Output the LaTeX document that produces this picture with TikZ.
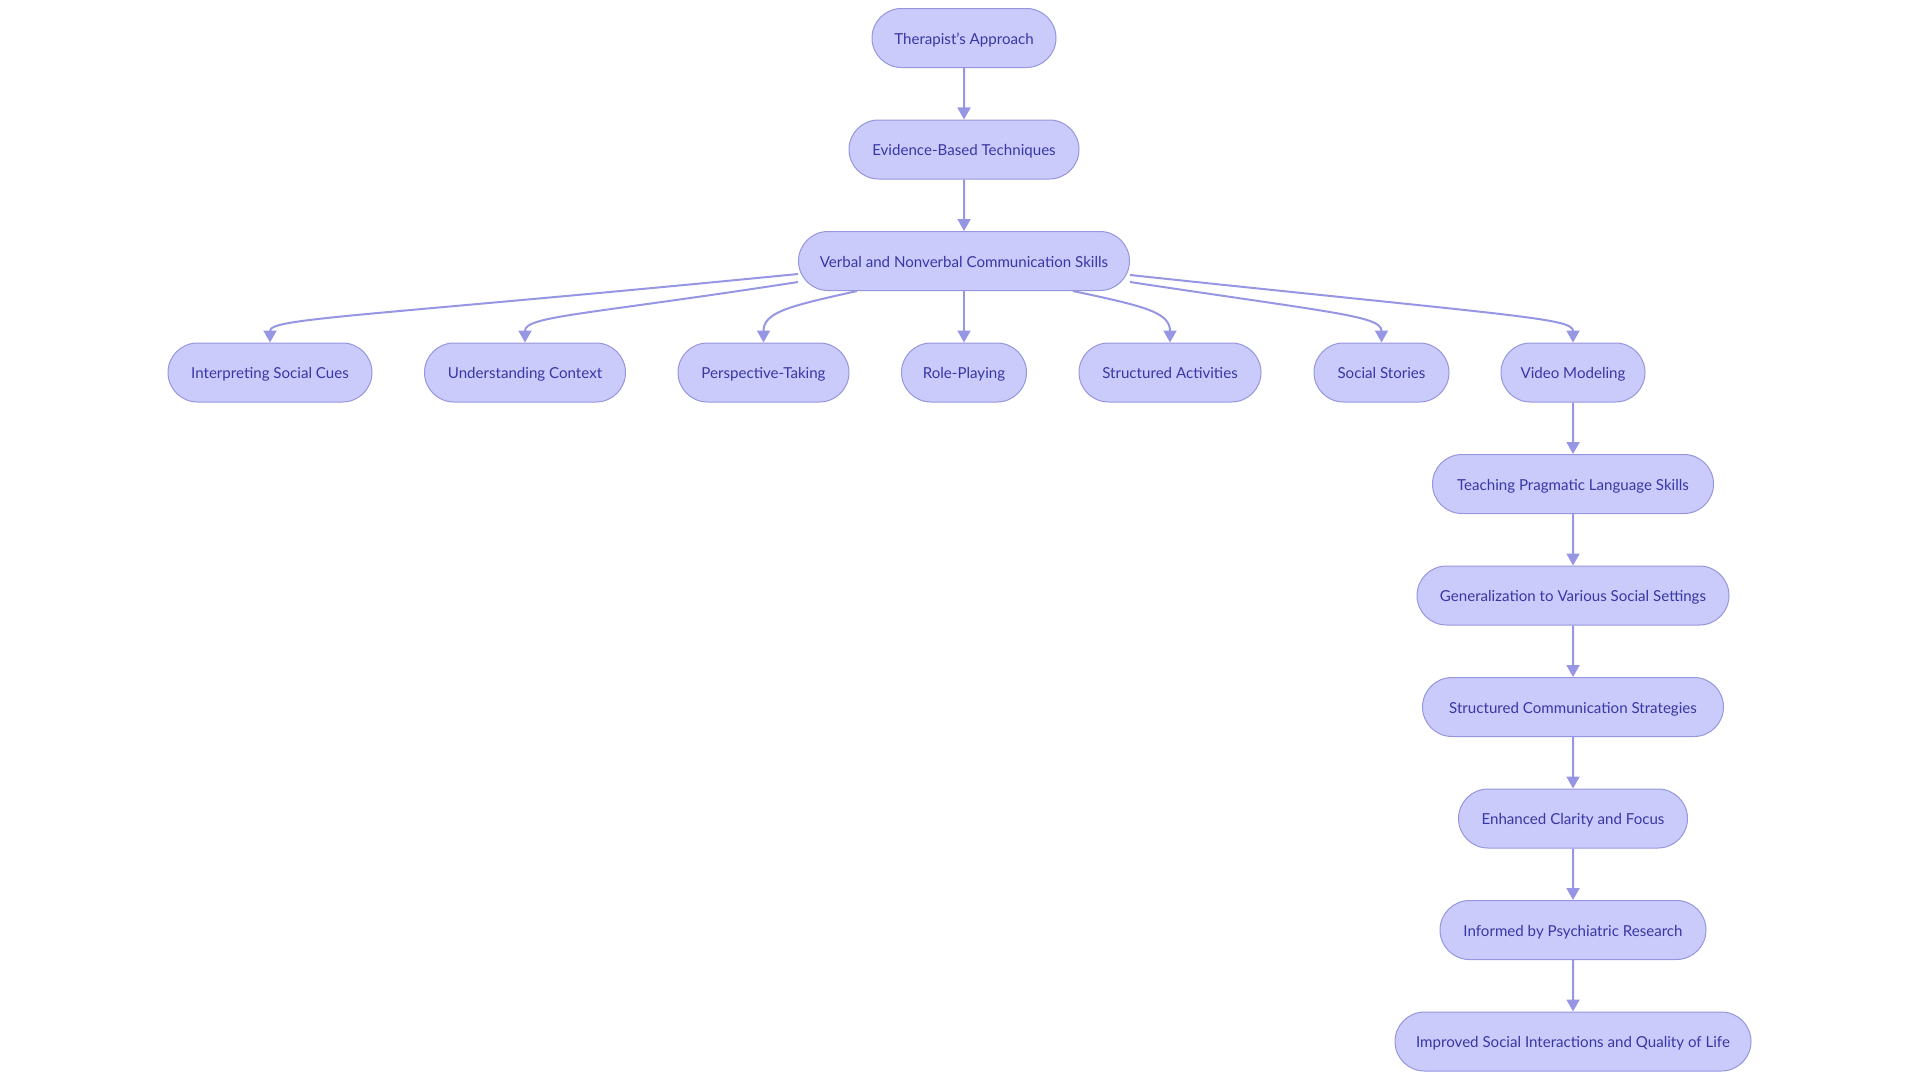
\documentclass[tikz,border=0pt]{standalone}
\usepackage{fontspec}
\setmainfont{Lato}
\usetikzlibrary{arrows.meta,shapes.misc}
\definecolor{nodefill}{RGB}{203,203,251}
\definecolor{nodedraw}{RGB}{150,150,222}
\definecolor{nodetext}{RGB}{55,55,165}
\definecolor{edgecol}{RGB}{150,150,228}
\tikzset{
  box/.style={rounded rectangle, draw=nodedraw, fill=nodefill, line width=1pt,
    minimum height=59pt, inner xsep=0pt, text=nodetext,
    text height=14pt, text depth=2pt,
    font=\fontsize{15.1}{18}\selectfont},
  link/.style={draw=edgecol, line width=2pt, -{Triangle[length=12pt,width=13pt]}}
}
\begin{document}
\begin{tikzpicture}[x=1pt,y=-1pt]
\useasboundingbox (0,0) rectangle (1920,1080);
\node[box, minimum width=184pt] (a) at (964,38) {Therapist's Approach};
\node[box, minimum width=230pt] (b) at (964,149.5) {Evidence-Based Techniques};
\node[box, minimum width=331pt] (c) at (964,261) {Verbal and Nonverbal Communication Skills};
\node[box, minimum width=204pt] (d1) at (270,372.5) {Interpreting Social Cues};
\node[box, minimum width=201pt] (d2) at (525,372.5) {Understanding Context};
\node[box, minimum width=171pt] (d3) at (763.5,372.5) {Perspective-Taking};
\node[box, minimum width=125pt] (d4) at (964,372.5) {Role-Playing};
\node[box, minimum width=182pt] (d5) at (1170,372.5) {Structured Activities};
\node[box, minimum width=135pt] (d6) at (1381.5,372.5) {Social Stories};
\node[box, minimum width=144pt] (d7) at (1573,372.5) {Video Modeling};
\node[box, minimum width=281pt] (e1) at (1573,484) {Teaching Pragmatic Language Skills};
\node[box, minimum width=312pt] (e2) at (1573,595.5) {Generalization to Various Social Settings};
\node[box, minimum width=301pt] (e3) at (1573,707) {Structured Communication Strategies};
\node[box, minimum width=229pt] (e4) at (1573,818.5) {Enhanced Clarity and Focus};
\node[box, minimum width=266pt] (e5) at (1573,930) {Informed by Psychiatric Research};
\node[box, minimum width=356pt] (e6) at (1573,1041.5) {Improved Social Interactions and Quality of Life};

\draw[link] (a) -- (b);
\draw[link] (b) -- (c);
\draw[link] (c.south) -- (d4.north);
\draw[link] ([yshift=-13pt]c.west) .. controls (360,317) and (270,318) .. (d1.north);
\draw[link] ([yshift=-21pt]c.west) .. controls (585,315) and (525,316) .. (d2.north);
\draw[link] ([xshift=-107pt]c.south) .. controls (790,306) and (763.5,312) .. (d3.north);
\draw[link] ([xshift=109pt]c.south) .. controls (1143,306) and (1170,312) .. (d5.north);
\draw[link] ([yshift=-21pt]c.east) .. controls (1335,313) and (1381.5,316) .. (d6.north);
\draw[link] ([yshift=-14pt]c.east) .. controls (1515,316) and (1573,318) .. (d7.north);
\draw[link] (d7) -- (e1);
\draw[link] (e1) -- (e2);
\draw[link] (e2) -- (e3);
\draw[link] (e3) -- (e4);
\draw[link] (e4) -- (e5);
\draw[link] (e5) -- (e6);
\end{tikzpicture}
\end{document}
